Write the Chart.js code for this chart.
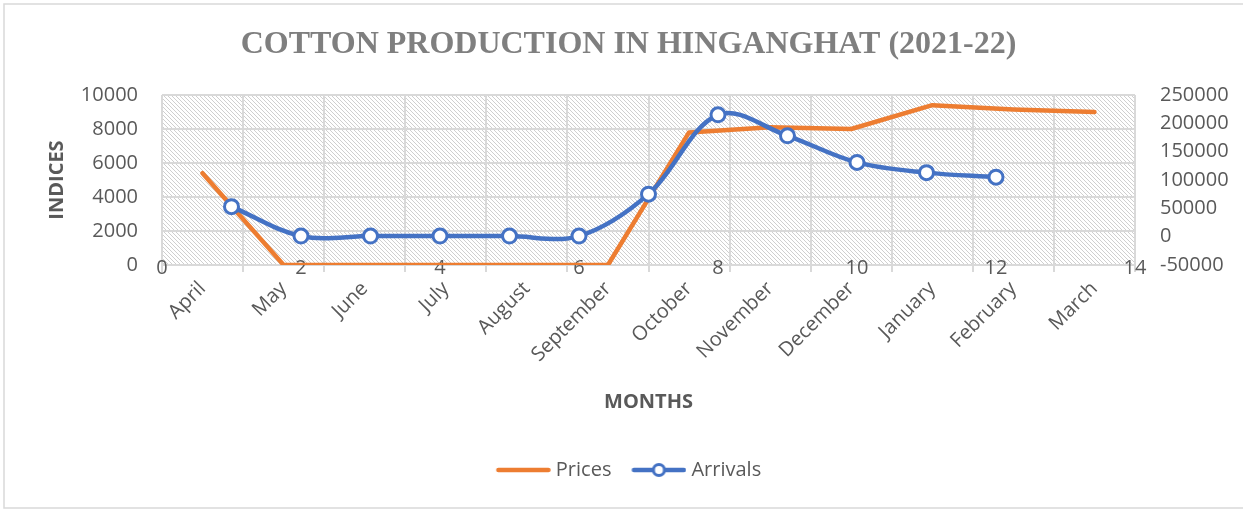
<!DOCTYPE html>
<html><head><meta charset="utf-8">
<script src="https://cdn.jsdelivr.net/npm/chart.js@4"></script>
<style>html,body{margin:0;padding:0;background:#fff}canvas{display:block}</style>
</head><body>
<canvas id="c" width="1243" height="510"></canvas>
<script>
// ---- data ----
const months = ['April','May','June','July','August','September','October','November','December','January','February','March'];
const prices = [5400, 0, 0, 0, 0, 0, 7800, 8100, 8000, 9400, 9150, 9000];
const arrivals = [53000, 1000, 1000, 1000, 1000, 1000, 75000, 215000, 178000, 131000, 113000, 105000];
const chartTitle = 'COTTON PRODUCTION IN HINGANGHAT (2021-22)';
const yTitle = 'INDICES';
const xTitle = 'MONTHS';
const seriesNames = ['Prices', 'Arrivals'];

const ORANGE = '#ED7D31', BLUE = '#4472C4', GRID = '#D9D9D9', TXT = '#595959';
const FONT = "'Open Sans', 'Liberation Sans', sans-serif";

// hatch pattern for plot area
const pc = document.createElement('canvas'); pc.width = 4; pc.height = 4;
const pctx = pc.getContext('2d');
pctx.fillStyle = '#fff'; pctx.fillRect(0,0,4,4);
pctx.fillStyle = '#CFCFCF';
for (let i = 0; i < 4; i++) pctx.fillRect(i, i, 1, 1);

// legend images (60 wide, line spans 5..60 so that it ends 5px before the text)
function legendImg(color, marker) {
  const c = document.createElement('canvas'); c.width = 60; c.height = 18;
  const g = c.getContext('2d');
  g.strokeStyle = color; g.lineWidth = 4.5; g.lineCap = 'round';
  g.beginPath(); g.moveTo(7.5, 9); g.lineTo(57.5, 9); g.stroke();
  if (marker) {
    g.fillStyle = '#fff'; g.lineWidth = 3;
    g.beginPath(); g.arc(32.5, 9, 5.5, 0, Math.PI*2); g.fill(); g.stroke();
  }
  return c;
}
const priceImg = legendImg(ORANGE, false);
const arrImg = legendImg(BLUE, true);

const bgPlugin = {
  id: 'bg',
  beforeDraw(chart) {
    const {ctx, chartArea: a} = chart;
    ctx.save();
    ctx.fillStyle = '#fff';
    ctx.fillRect(0, 0, chart.width, chart.height);
    ctx.strokeStyle = GRID; ctx.lineWidth = 1.5;
    ctx.strokeRect(4, 4, chart.width + 10, 504);
    ctx.fillStyle = ctx.createPattern(pc, 'repeat');
    ctx.fillRect(a.left, a.top, a.right - a.left, a.bottom - a.top);
    ctx.restore();
  }
};

new Chart(document.getElementById('c'), {
  type: 'line',
  data: {
    labels: months,
    datasets: [
      {
        label: seriesNames[0], data: prices, xAxisID: 'x', yAxisID: 'y', order: 2,
        borderColor: ORANGE, backgroundColor: ORANGE, borderWidth: 4.5,
        pointRadius: 0, tension: 0, borderJoinStyle: 'round', borderCapStyle: 'round'
      },
      {
        label: seriesNames[1], data: arrivals.map((v, i) => ({x: i + 1, y: v})),
        xAxisID: 'x2', yAxisID: 'y2', order: 1,
        borderColor: BLUE, backgroundColor: '#fff', borderWidth: 4.5,
        pointRadius: 7, pointBorderWidth: 3, pointBackgroundColor: '#fff', pointBorderColor: BLUE,
        tension: 0.35, borderCapStyle: 'round'
      }
    ]
  },
  options: {
    responsive: false,
    animation: false,
    devicePixelRatio: 1,
    layout: {padding: {left: 24, right: 10, top: 4, bottom: 20}},
    plugins: {
      tooltip: {enabled: false},
      title: {
        display: true, text: chartTitle, color: '#7F7F7F',
        font: {family: "'Liberation Serif', 'Times New Roman', serif", size: 32, weight: 'bold'},
        padding: {top: 22, bottom: 30.6}
      },
      legend: {
        position: 'bottom',
        labels: {
          usePointStyle: true, pointStyleWidth: 50, boxHeight: 14, padding: 20,
          color: TXT, font: {family: FONT, size: 20},
          generateLabels: () => [
            {text: seriesNames[0], pointStyle: priceImg, fillStyle: 'transparent', strokeStyle: 'transparent', lineWidth: 0, datasetIndex: 0, fontColor: TXT},
            {text: seriesNames[1], pointStyle: arrImg, fillStyle: 'transparent', strokeStyle: 'transparent', lineWidth: 0, datasetIndex: 1, fontColor: TXT}
          ]
        }
      }
    },
    scales: {
      x: {
        type: 'category', position: 'bottom', offset: true,
        grid: {display: true, offset: true, color: GRID, lineWidth: 2, tickLength: 7, drawTicks: true},
        border: {display: true, color: GRID, width: 2},
        ticks: {color: TXT, font: {family: FONT, size: 20}, minRotation: 45, maxRotation: 45, autoSkip: false, padding: 5},
        title: {display: true, text: xTitle, color: TXT, font: {family: FONT, size: 20, weight: 'bold'}, padding: {top: 0, bottom: 26}},
        afterFit: s => { s.height = 175; }
      },
      x2: {
        type: 'linear', position: {y: 0}, min: 0, max: 14,
        grid: {display: false, drawTicks: false}, border: {display: false},
        ticks: {stepSize: 2, color: TXT, font: {family: FONT, size: 20}, padding: -9, maxRotation: 0, autoSkip: false, callback: v => String(v)}
      },
      y: {
        type: 'linear', position: 'left', min: 0, max: 10000,
        grid: {color: GRID, lineWidth: 2, drawTicks: false},
        border: {display: false},
        ticks: {stepSize: 2000, color: TXT, font: {family: FONT, size: 20}, padding: 24, callback: v => String(v)},
        title: {display: true, text: yTitle, color: TXT, font: {family: FONT, size: 20, weight: 'bold'}, padding: {top: 21, bottom: 0}},
        afterFit: s => { s.width = 138; }
      },
      y2: {
        type: 'linear', position: 'right', min: -50000, max: 250000,
        grid: {display: false, drawTicks: false},
        border: {display: false},
        ticks: {stepSize: 50000, color: TXT, font: {family: FONT, size: 20}, padding: 25, callback: v => String(v)},
        afterFit: s => { s.width = 98; }
      }
    }
  },
  plugins: [bgPlugin]
});
</script>
</body></html>
